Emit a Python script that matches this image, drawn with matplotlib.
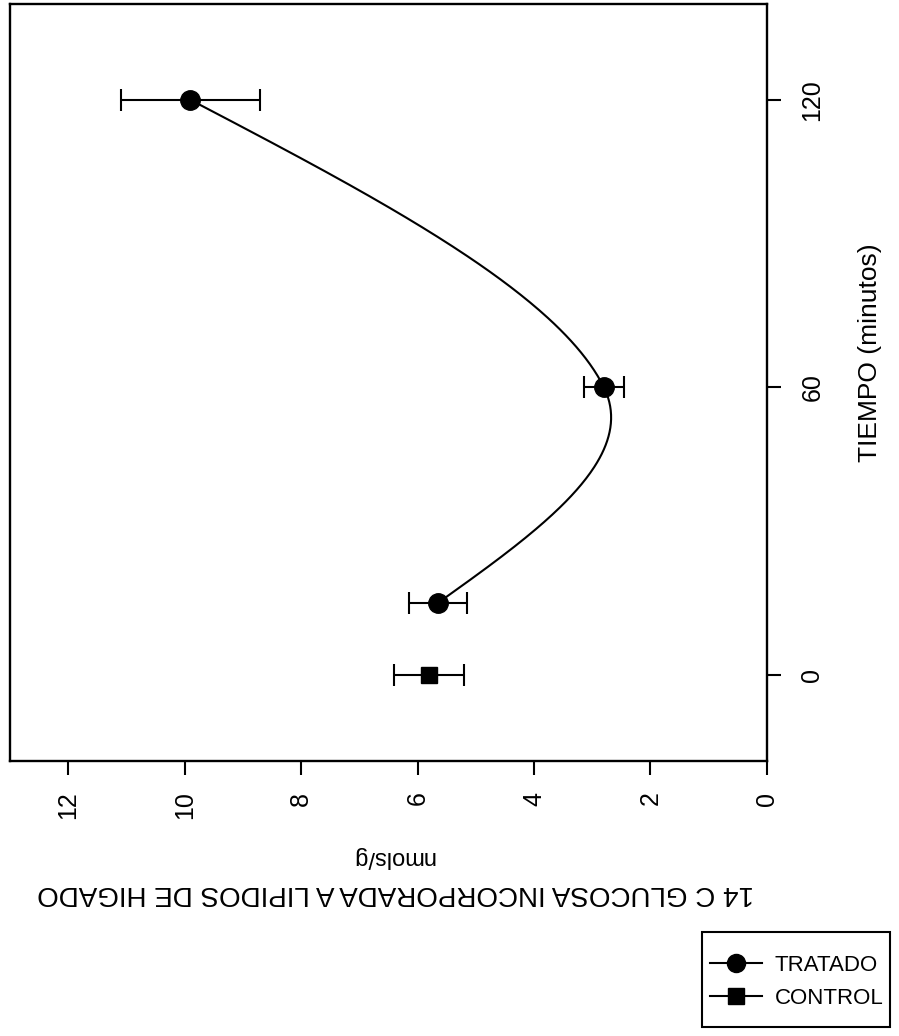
import numpy as np
import matplotlib.pyplot as plt
from matplotlib.lines import Line2D
from matplotlib.patches import Rectangle

plt.rcParams['font.family'] = ['Liberation Sans', 'DejaVu Sans']

# datos (tiempo en minutos, nmols/g)
tiempo_tratado = [15, 60, 120]
nmol_tratado = [5.65, 2.8, 9.9]
err_tratado = [0.5, 0.35, 1.2]

tiempo_control = [0]
nmol_control = [5.8]
err_control = [0.6]

nmol_ticks = [0, 2, 4, 6, 8, 10, 12]
tiempo_ticks = [0, 60, 120]

fig = plt.figure(figsize=(8.99, 10.36), dpi=100)
ax = fig.add_axes([0.0111, 0.2654, 0.842, 0.7307])

# curva suave (hermite cubica) que pasa por los puntos del tratado
t = np.array(tiempo_tratado, dtype=float)
v = np.array(nmol_tratado, dtype=float)
d = np.diff(v) / np.diff(t)
m = np.zeros(len(t))
m[1:-1] = (v[2:] - v[:-2]) / (t[2:] - t[:-2])
m[0] = (3 * d[0] - m[1]) / 2
m[-1] = (3 * d[-1] - m[-2]) / 2
s = np.linspace(0, 1, 150)
h00 = 2 * s**3 - 3 * s**2 + 1
h10 = s**3 - 2 * s**2 + s
h01 = -2 * s**3 + 3 * s**2
h11 = s**3 - s**2
for i in range(len(t) - 1):
    h = t[i + 1] - t[i]
    tc = t[i] + s * h
    vc = h00 * v[i] + h10 * h * m[i] + h01 * v[i + 1] + h11 * h * m[i + 1]
    ax.plot(vc, tc, color='black', lw=1.5)

ax.errorbar(nmol_tratado, tiempo_tratado, xerr=err_tratado, fmt='o', color='black',
            ms=14, capsize=8, elinewidth=1.5, capthick=1.5)
ax.errorbar(nmol_control, tiempo_control, xerr=err_control, fmt='s', color='black',
            ms=12, capsize=8, elinewidth=1.5, capthick=1.5)

ax.set_xlim(13, 0)
ax.set_ylim(-18, 140)
ax.set_xticks(nmol_ticks)
ax.set_yticks(tiempo_ticks)
ax.yaxis.tick_right()

for sp in ax.spines.values():
    sp.set_linewidth(1.7)
ax.tick_params(axis='both', length=10, width=1.5, labelsize=18, labelrotation=90)
ax.tick_params(axis='x', pad=12)
ax.tick_params(axis='y', pad=14)
for lab in ax.get_yticklabels():
    lab.set_va('center')

fig.text(0.968, 0.66, 'TIEMPO (minutos)', fontsize=19, rotation=90,
         ha='center', va='center')

# etiquetas invertidas debajo del eje (como en la figura girada)
fig.text(0.437, 0.173, 'nmols/g', fontsize=17, rotation=180, ha='center', va='center')
fig.text(0.44, 0.138, '14 C GLUCOSA INCORPORADA A LIPIDOS DE HIGADO', fontsize=20,
         rotation=180, ha='center', va='center')

# leyenda con su recuadro
fig.add_artist(Rectangle((702 / 899, 1 - 1027 / 1036), 188 / 899, 95 / 1036,
                         transform=fig.transFigure, fill=False, lw=1.5, color='black'))
handles = [Line2D([], [], color='black', marker='o', ms=13, lw=1.5),
           Line2D([], [], color='black', marker='s', ms=11, lw=1.5)]
fig.legend(handles, ['TRATADO', 'CONTROL'], loc='center',
           bbox_to_anchor=(797 / 899, 1 - 982 / 1036), fontsize=16, frameon=False,
           handlelength=2.3, handletextpad=0.6, labelspacing=0.55)

fig.savefig('out.png', dpi=100)
